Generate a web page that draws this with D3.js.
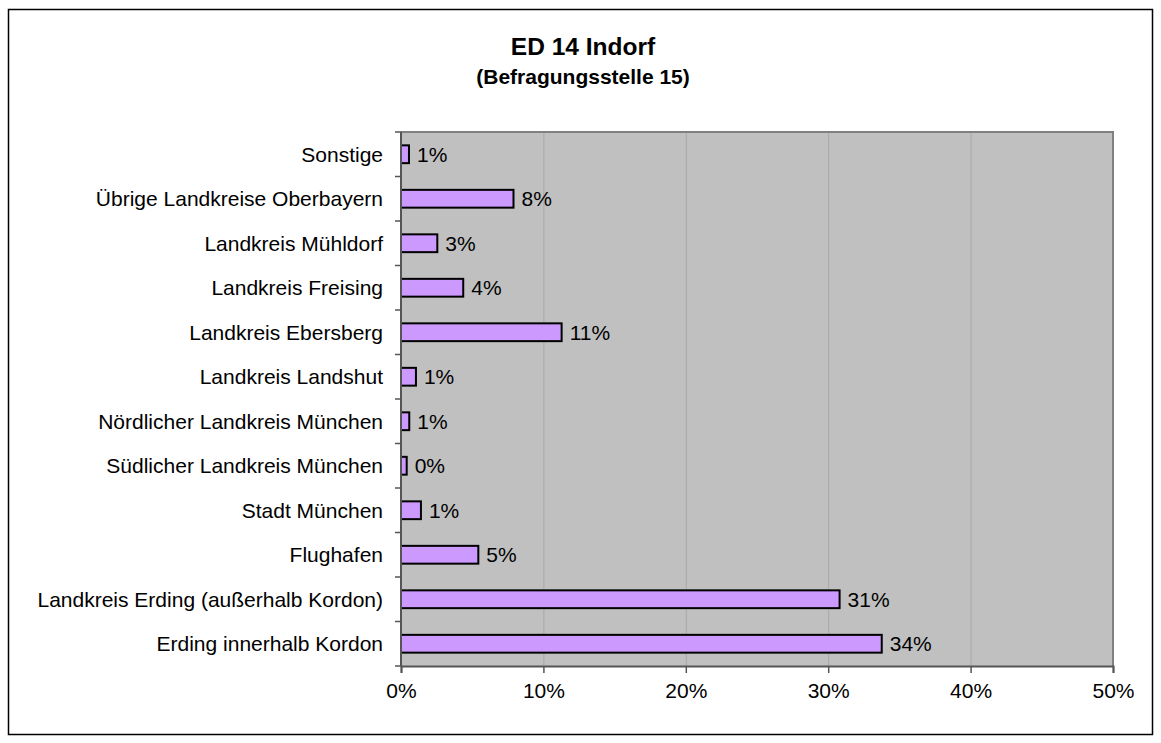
<!DOCTYPE html>
<html>
<head>
<meta charset="utf-8">
<script src="https://cdn.jsdelivr.net/npm/d3@7"></script>
<style>
  body { margin: 0; background: #fff; }
  text { font-family: "Liberation Sans", Arial, sans-serif; fill: #000; }
</style>
</head>
<body>
<div id="main-div"></div>
<script>
// categories top to bottom
let categories = [
  "Sonstige",
  "Übrige Landkreise Oberbayern",
  "Landkreis Mühldorf",
  "Landkreis Freising",
  "Landkreis Ebersberg",
  "Landkreis Landshut",
  "Nördlicher Landkreis München",
  "Südlicher Landkreis München",
  "Stadt München",
  "Flughafen",
  "Landkreis Erding (außerhalb Kordon)",
  "Erding innerhalb Kordon"
]

// share in percent
let values = [0.56, 7.9, 2.55, 4.37, 11.28, 1.05, 0.58, 0.4, 1.4, 5.43, 30.8, 33.76]

let xTicks = [0, 10, 20, 30, 40, 50]

let title = "ED 14 Indorf"
let subtitle = "(Befragungsstelle 15)"

let width = 1161
let height = 743
let margin = ({top: 132, right: 48, bottom: 77, left: 401})

let data = categories.map((c, i) => ({name: c, value: values[i]}))

var svg = d3.select("#main-div")
  .append("svg")
  .attr("width", width)
  .attr("height", height)

// outer frame
svg.append("rect")
  .attr("x", 8.5).attr("y", 9.5)
  .attr("width", 1144).attr("height", 725)
  .attr("fill", "#fff")
  .attr("stroke", "#000")
  .attr("stroke-width", 1.5)

// titles
svg.append("text")
  .attr("x", 583).attr("y", 55)
  .attr("text-anchor", "middle")
  .attr("font-weight", "bold")
  .attr("font-size", "24.5px")
  .text(title)

svg.append("text")
  .attr("x", 583).attr("y", 84)
  .attr("text-anchor", "middle")
  .attr("font-weight", "bold")
  .attr("font-size", "21px")
  .text(subtitle)

let x = d3.scaleLinear()
  .domain([0, 50])
  .range([margin.left, width - margin.right])

let y = d3.scaleBand()
  .domain(categories)
  .range([margin.top, height - margin.bottom])
  .paddingInner(0.6)
  .paddingOuter(0.3)

// plot area
svg.append("rect")
  .attr("x", x(0)).attr("y", margin.top)
  .attr("width", x(50) - x(0))
  .attr("height", height - margin.bottom - margin.top)
  .attr("fill", "#c0c0c0")

// gridlines
svg.append("g")
  .selectAll("line")
  .data(xTicks.slice(1, -1))
  .join("line")
  .attr("x1", d => x(d) + 0.5).attr("x2", d => x(d) + 0.5)
  .attr("y1", margin.top).attr("y2", height - margin.bottom)
  .attr("stroke", "#a8a8a8")
  .attr("stroke-width", 1)

// plot border top and right
svg.append("path")
  .attr("d", `M${x(0)},${margin.top}H${x(50)}V${height - margin.bottom}`)
  .attr("fill", "none")
  .attr("stroke", "#808080")
  .attr("stroke-width", 2)

// bars
svg.append("g")
  .selectAll("rect")
  .data(data)
  .join("rect")
  .attr("x", x(0))
  .attr("y", d => y(d.name))
  .attr("width", d => x(d.value) - x(0))
  .attr("height", y.bandwidth())
  .attr("fill", "#cc99ff")
  .attr("stroke", "#000")
  .attr("stroke-width", 2)

// value labels
svg.append("g")
  .selectAll("text")
  .data(data)
  .join("text")
  .attr("x", d => x(d.value) + 8)
  .attr("y", d => y(d.name) + y.bandwidth() / 2)
  .attr("dy", "0.36em")
  .attr("font-size", "21px")
  .text(d => d3.format(".0f")(d.value) + "%")

// y axis (category ticks at band edges)
let step = y.step()
let yAxis = svg.append("g")
yAxis.append("line")
  .attr("x1", x(0)).attr("x2", x(0))
  .attr("y1", margin.top).attr("y2", height - margin.bottom)
  .attr("stroke", "#555")
  .attr("stroke-width", 2)
yAxis.selectAll("line.tick")
  .data(d3.range(categories.length + 1))
  .join("line")
  .attr("class", "tick")
  .attr("x1", x(0) - 6).attr("x2", x(0))
  .attr("y1", i => margin.top + i * step)
  .attr("y2", i => margin.top + i * step)
  .attr("stroke", "#555")
  .attr("stroke-width", 1.5)
yAxis.selectAll("text")
  .data(categories)
  .join("text")
  .attr("x", x(0) - 18)
  .attr("y", d => y(d) + y.bandwidth() / 2)
  .attr("dy", "0.36em")
  .attr("text-anchor", "end")
  .attr("font-size", "21px")
  .text(d => d)

// x axis
let xAxis = svg.append("g")
  .attr("transform", `translate(0,${height - margin.bottom})`)
  .call(d3.axisBottom(x).tickValues(xTicks).tickSize(7).tickPadding(10)
    .tickFormat(d => d + "%"))
xAxis.select(".domain").attr("stroke", "#555").attr("stroke-width", 2)
xAxis.selectAll(".tick line").attr("stroke", "#555").attr("stroke-width", 1.5)
xAxis.selectAll(".tick text")
  .attr("font-size", "21px")
  .attr("font-family", "Liberation Sans, Arial, sans-serif")
  .attr("fill", "#000")
</script>
</body>
</html>
